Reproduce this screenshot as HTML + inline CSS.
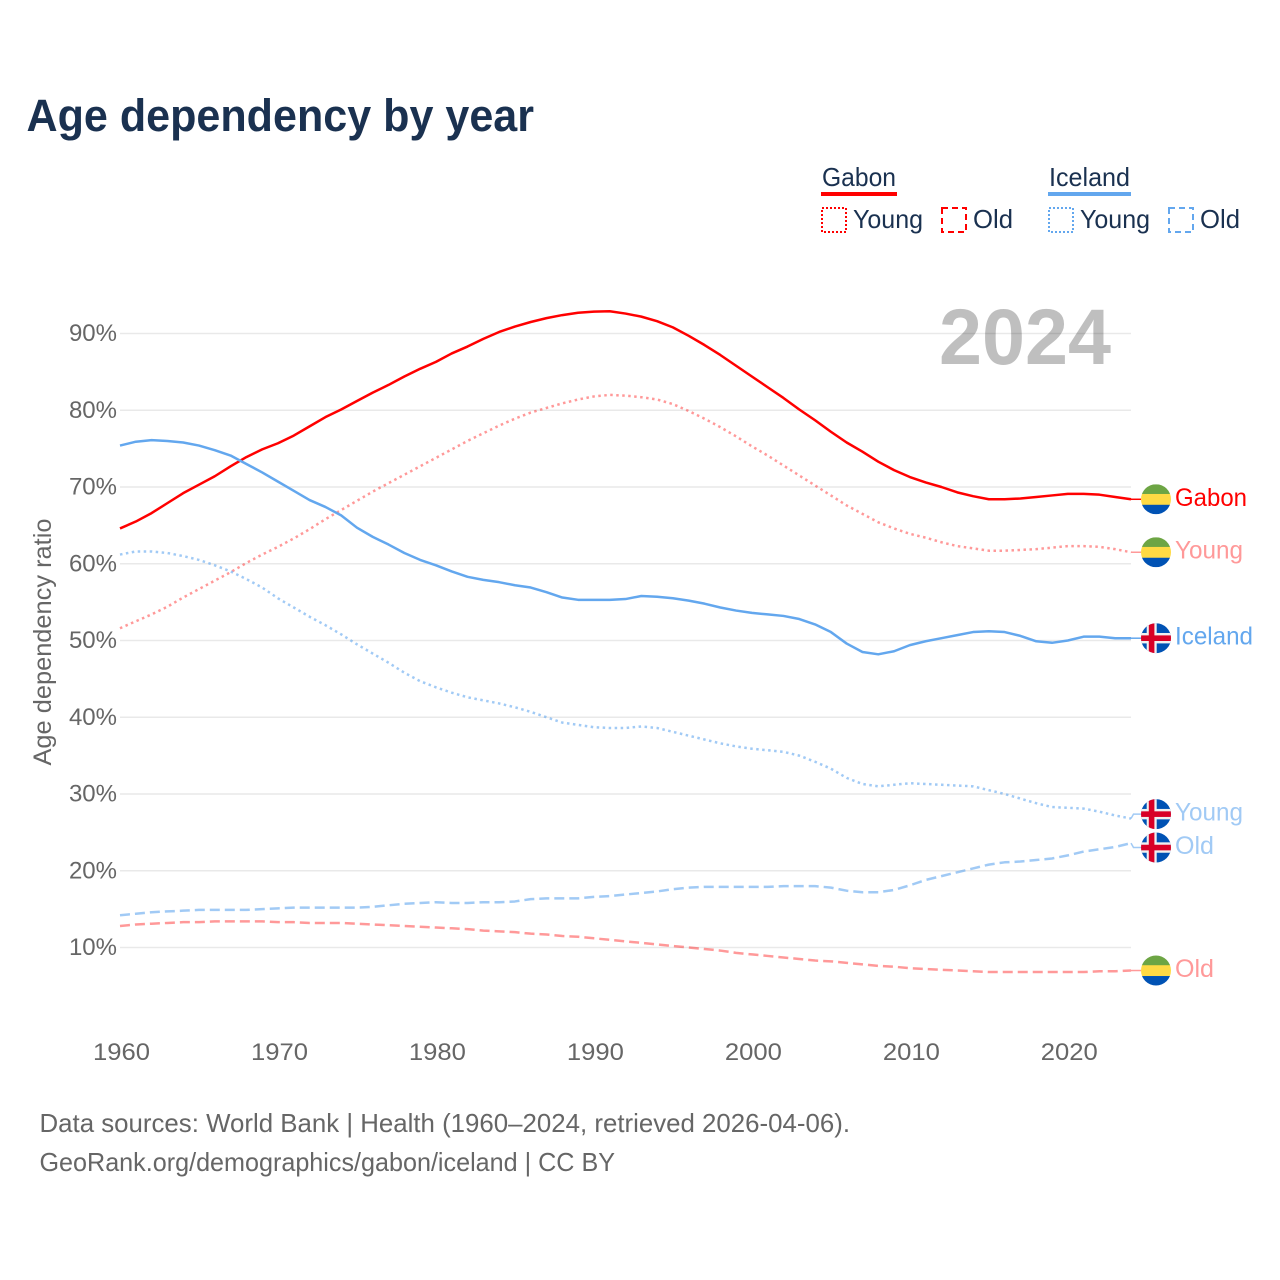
<!DOCTYPE html>
<html lang="en">
<head>
<meta charset="utf-8">
<title>Age dependency by year</title>
<style>
html,body{margin:0;padding:0;background:#fff;}
svg{display:block;font-family:"Liberation Sans",sans-serif;}
</style>
</head>
<body>
<svg id="chart" xmlns="http://www.w3.org/2000/svg" width="1280" height="1280" viewBox="0 0 1280 1280">
  <defs>
    <clipPath id="flag-clip"><circle cx="0" cy="0" r="15"/></clipPath>
  </defs>
  <rect x="0" y="0" width="1280" height="1280" fill="#fff"/>
  <text x="26.5" y="131" font-size="45" font-weight="700" fill="#1a3150" textLength="507.5" lengthAdjust="spacingAndGlyphs">Age dependency by year</text>

  <g font-size="26" fill="#1a3150">
    <text x="822" y="186" textLength="74" lengthAdjust="spacingAndGlyphs">Gabon</text>
    <rect x="821" y="192" width="76" height="4" fill="#ff0000"/>
    <rect x="822" y="208" width="24" height="24" fill="none" stroke="#ff0000" stroke-width="2" stroke-dasharray="2 2"/>
    <text x="853" y="228" textLength="70" lengthAdjust="spacingAndGlyphs">Young</text>
    <rect x="942" y="208" width="24" height="24" fill="none" stroke="#ff0000" stroke-width="2" stroke-dasharray="6 4"/>
    <text x="973" y="228" textLength="40" lengthAdjust="spacingAndGlyphs">Old</text>

    <text x="1049" y="186" textLength="81" lengthAdjust="spacingAndGlyphs">Iceland</text>
    <rect x="1048" y="192" width="83" height="4" fill="#63a7ee"/>
    <rect x="1049" y="208" width="24" height="24" fill="none" stroke="#63a7ee" stroke-width="2" stroke-dasharray="2 2"/>
    <text x="1080" y="228" textLength="70" lengthAdjust="spacingAndGlyphs">Young</text>
    <rect x="1169" y="208" width="24" height="24" fill="none" stroke="#63a7ee" stroke-width="2" stroke-dasharray="6 4"/>
    <text x="1200" y="228" textLength="40" lengthAdjust="spacingAndGlyphs">Old</text>
  </g>

  <text transform="translate(51,642) rotate(-90)" text-anchor="middle" font-size="25" fill="#666" textLength="247" lengthAdjust="spacingAndGlyphs">Age dependency ratio</text>

  <g id="grid"></g>
  <g id="y-ticks"></g>
  <g id="x-ticks"></g>

  <text x="939" y="364" font-size="79" font-weight="700" fill="#000" fill-opacity="0.25" textLength="172" lengthAdjust="spacingAndGlyphs">2024</text>

  <g id="series"></g>
  <g id="end-labels"></g>

  <text x="39.5" y="1132" font-size="26" fill="#666" textLength="810.5" lengthAdjust="spacingAndGlyphs">Data sources: World Bank | Health (1960–2024, retrieved 2026-04-06).</text>
  <text x="39.5" y="1171" font-size="26" fill="#666" textLength="575.5" lengthAdjust="spacingAndGlyphs">GeoRank.org/demographics/gabon/iceland | CC BY</text>
</svg>
<script>
const firstYear = 1960;
const yTickValues = [10, 20, 30, 40, 50, 60, 70, 80, 90];
const yTickLabels = ["10%", "20%", "30%", "40%", "50%", "60%", "70%", "80%", "90%"];
const xTickValues = [1960, 1970, 1980, 1990, 2000, 2010, 2020];
const xTickLabels = ["1960", "1970", "1980", "1990", "2000", "2010", "2020"];

const gabonTotal = [64.6,65.5,66.6,67.9,69.2,70.3,71.4,72.7,73.9,74.9,75.7,76.7,77.9,79.1,80.1,81.2,82.3,83.3,84.4,85.4,86.3,87.4,88.3,89.3,90.2,90.9,91.5,92.0,92.4,92.7,92.85,92.9,92.6,92.2,91.6,90.8,89.7,88.5,87.2,85.8,84.4,83.0,81.6,80.1,78.7,77.2,75.8,74.6,73.3,72.2,71.3,70.6,70.0,69.3,68.8,68.4,68.4,68.5,68.7,68.9,69.1,69.1,69.0,68.7,68.4];
const gabonYoung = [51.6,52.5,53.4,54.4,55.6,56.7,57.8,58.9,60.1,61.2,62.2,63.3,64.5,65.8,67.0,68.2,69.4,70.5,71.6,72.7,73.8,74.9,76.0,77.0,78.0,78.9,79.7,80.3,80.9,81.4,81.8,82.0,81.9,81.7,81.4,80.8,79.9,78.9,77.8,76.6,75.3,74.1,72.8,71.5,70.2,68.9,67.6,66.5,65.4,64.6,63.9,63.4,62.8,62.3,62.0,61.7,61.7,61.8,61.9,62.1,62.3,62.3,62.2,61.9,61.5];
const gabonOld = [12.8,13.0,13.1,13.2,13.3,13.3,13.4,13.4,13.4,13.4,13.3,13.3,13.2,13.2,13.2,13.1,13.0,12.9,12.8,12.7,12.6,12.5,12.4,12.2,12.1,12.0,11.8,11.7,11.5,11.4,11.2,11.0,10.8,10.6,10.4,10.2,10.0,9.8,9.6,9.3,9.1,8.9,8.7,8.5,8.3,8.2,8.0,7.8,7.6,7.5,7.3,7.2,7.1,7.0,6.9,6.8,6.8,6.8,6.8,6.8,6.8,6.8,6.9,6.9,7.0];
const icelandTotal = [75.4,75.9,76.1,76.0,75.8,75.4,74.8,74.1,73.0,71.9,70.7,69.5,68.3,67.4,66.3,64.7,63.5,62.5,61.4,60.5,59.8,59.0,58.3,57.9,57.6,57.2,56.9,56.3,55.6,55.3,55.3,55.3,55.4,55.8,55.7,55.5,55.2,54.8,54.3,53.9,53.6,53.4,53.2,52.8,52.1,51.1,49.6,48.5,48.2,48.6,49.4,49.9,50.3,50.7,51.1,51.2,51.1,50.6,49.9,49.7,50.0,50.5,50.5,50.3,50.3];
const icelandYoung = [61.2,61.6,61.6,61.4,61.0,60.5,59.8,59.0,58.0,56.9,55.5,54.3,53.1,52.0,50.8,49.5,48.3,47.1,45.8,44.7,43.9,43.2,42.6,42.2,41.8,41.3,40.7,40.0,39.3,39.0,38.7,38.6,38.6,38.8,38.6,38.1,37.6,37.1,36.6,36.2,35.9,35.7,35.5,35.0,34.2,33.3,32.1,31.3,31.0,31.2,31.4,31.3,31.2,31.1,31.0,30.5,30.0,29.4,28.8,28.3,28.2,28.1,27.7,27.2,26.8];
const icelandOld = [14.2,14.4,14.6,14.7,14.8,14.9,14.9,14.9,14.9,15.0,15.1,15.2,15.2,15.2,15.2,15.2,15.3,15.5,15.7,15.8,15.9,15.8,15.8,15.9,15.9,16.0,16.3,16.4,16.4,16.4,16.6,16.7,16.9,17.1,17.3,17.6,17.8,17.9,17.9,17.9,17.9,17.9,18.0,18.0,18.0,17.8,17.4,17.2,17.2,17.5,18.1,18.8,19.3,19.8,20.3,20.8,21.1,21.2,21.4,21.6,22.0,22.5,22.8,23.1,23.6];

const seriesNames = ["gabon-total", "gabon-young", "gabon-old", "iceland-total", "iceland-young", "iceland-old"];
const seriesLabels = ["Gabon", "Young", "Old", "Iceland", "Young", "Old"];

const NS = "http://www.w3.org/2000/svg";
function x(year) { return 120 + (year - 1960) * 15.797; }
function y(v) { return 947.5 - (v - 10) * 7.675; }
function make(tag, parent, attrs) {
  const node = document.createElementNS(NS, tag);
  for (const k in attrs) node.setAttribute(k, attrs[k]);
  parent.appendChild(node);
  return node;
}

const grid = document.getElementById("grid");
const yTicks = document.getElementById("y-ticks");
const xTicks = document.getElementById("x-ticks");
const seriesGroup = document.getElementById("series");
const labelGroup = document.getElementById("end-labels");

yTickValues.forEach(function (v, i) {
  const line = make("line", grid, { x1: 120, x2: 1131, y1: y(v), y2: y(v), stroke: "#e9e9e9", "stroke-width": 1.5 });
  
  
  const t = make("text", yTicks, { x: 117, y: y(v) + 7.5, "text-anchor": "end", "font-size": 24, fill: "#666" });
  t.textContent = yTickLabels[i];
  
  
});

xTickValues.forEach(function (v, i) {
  const t = make("text", xTicks, { x: x(v) + 1.5, y: 1060, "text-anchor": "middle", "font-size": 24, fill: "#666", textLength: 57, lengthAdjust: "spacingAndGlyphs" });
  t.textContent = xTickLabels[i];
  
  
});

const seriesValues = [gabonTotal, gabonYoung, gabonOld, icelandTotal, icelandYoung, icelandOld];
const red = "#ff0000", blue = "#63a7ee";
const seriesColor = [red, red, red, blue, blue, blue];
const seriesOpacity = [1, 0.4, 0.4, 1, 0.6, 0.6];
const seriesDash = ["none", "2.5 3.5", "10 5", "none", "2.5 3.5", "10 5"];
const labelColor = ["#ff0000", "#ff9999", "#ff9999", "#63a7ee", "#a1caf5", "#a1caf5"];
const labelWidth = { Gabon: 72, Young: 68, Old: 39, Iceland: 78 };

seriesValues.forEach(function (vals, i) {
  const pts = vals.map(function (v, j) { return x(firstYear + j).toFixed(2) + "," + y(v).toFixed(2); }).join(" ");
  const line = make("polyline", seriesGroup, {
    points: pts, fill: "none", stroke: seriesColor[i], "stroke-opacity": seriesOpacity[i],
    "stroke-width": 2.5, "stroke-dasharray": seriesDash[i], "stroke-linejoin": "round"
  });
  
  
});

/* End labels: start at each series' last value, then spread any that collide. */
const order = seriesValues.map(function (vals, i) {
  const last = y(vals[vals.length - 1]);
  return { i: i, endY: last, labelY: last };
}).sort(function (a, b) { return a.endY - b.endY; });
const minGap = 33.4;
for (let pass = 0; pass < 12; pass++) {
  for (let k = 1; k < order.length; k++) {
    const gap = order[k].labelY - order[k - 1].labelY;
    if (gap < minGap) {
      const push = (minGap - gap) / 2;
      order[k - 1].labelY -= push;
      order[k].labelY += push;
    }
  }
}

function drawFlag(parent, country, cy) {
  const g = make("g", parent, { transform: "translate(1156," + cy.toFixed(2) + ")", "clip-path": "url(#flag-clip)" });
  
  
  if (country === "gabon") {
    make("rect", g, { x: -15, y: -15, width: 30, height: 10, fill: "#6da544" });
    make("rect", g, { x: -15, y: -5.3, width: 30, height: 11, fill: "#ffda44" });
    make("rect", g, { x: -15, y: 5.5, width: 30, height: 9.5, fill: "#0052b4" });
  } else {
    make("rect", g, { x: -15, y: -15, width: 30, height: 30, fill: "#0052b4" });
    make("rect", g, { x: -15, y: -5.2, width: 30, height: 10.4, fill: "#f0f0f0" });
    make("rect", g, { x: -9.3, y: -15, width: 10, height: 30, fill: "#f0f0f0" });
    make("rect", g, { x: -15, y: -2.8, width: 30, height: 5.6, fill: "#d80027" });
    make("rect", g, { x: -7.2, y: -15, width: 5.6, height: 30, fill: "#d80027" });
  }
}

order.forEach(function (o) {
  const i = o.i;
  const country = i < 3 ? "gabon" : "iceland";
  const conn = make("polyline", labelGroup, {
    points: "1131," + o.endY.toFixed(2) + " 1133.5," + o.labelY.toFixed(2) + " 1141," + o.labelY.toFixed(2),
    fill: "none", stroke: seriesColor[i], "stroke-opacity": seriesOpacity[i], "stroke-width": 1.5
  });
  
  
  drawFlag(labelGroup, country, o.labelY);
  const name = seriesLabels[i];
  const t = make("text", labelGroup, {
    x: 1175, y: o.labelY + 6.5, "font-size": 25, fill: labelColor[i],
    textLength: labelWidth[name], lengthAdjust: "spacingAndGlyphs"
  });
  t.textContent = name;
  
  
});
</script>
</body>
</html>
